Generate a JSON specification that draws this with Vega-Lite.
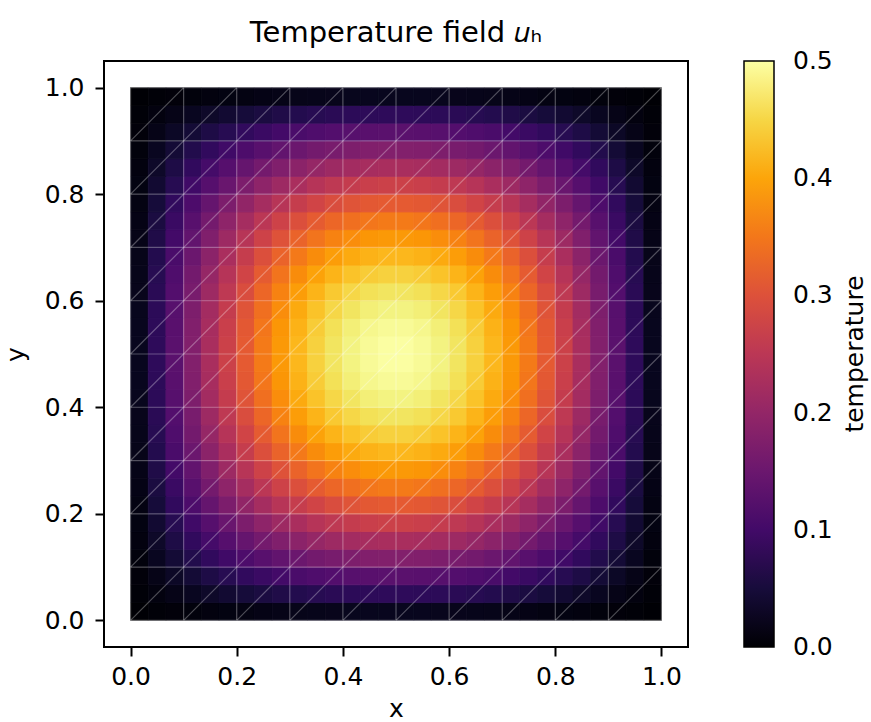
{
"$schema":"https://vega.github.io/schema/vega-lite/v6.json",
"width":584,"height":586,
"autosize":{"type":"none"},
"padding":{"left":104,"top":61,"right":183,"bottom":75},
"title":{"text":"Temperature field 𝑢ₕ","fontSize":29,"fontWeight":"normal","color":"black","offset":13,"frame":"group","anchor":"middle"},
"config":{
"font":"DejaVu Sans",
"view":{"stroke":"black","strokeWidth":2},
"axis":{"grid":false,"domain":false,"labelFontSize":25,"titleFontSize":25,"titleFontWeight":"normal","labelColor":"black","titleColor":"black","tickColor":"black","tickSize":9,"tickWidth":2,"labelOverlap":false,"labelFlush":false}
},
"layer":[
{
"data":{"values":[
{"x":0.0167,"y":0.0167,"t":0.001},{"x":0.05,"y":0.0167,"t":0.004},{"x":0.0833,"y":0.0167,"t":0.007},{"x":0.1167,"y":0.0167,"t":0.009},{"x":0.15,"y":0.0167,"t":0.012},{"x":0.1833,"y":0.0167,"t":0.014},{"x":0.2167,"y":0.0167,"t":0.016},{"x":0.25,"y":0.0167,"t":0.018},{"x":0.2833,"y":0.0167,"t":0.020},{"x":0.3167,"y":0.0167,"t":0.022},{"x":0.35,"y":0.0167,"t":0.023},{"x":0.3833,"y":0.0167,"t":0.024},{"x":0.4167,"y":0.0167,"t":0.025},{"x":0.45,"y":0.0167,"t":0.026},{"x":0.4833,"y":0.0167,"t":0.026},{"x":0.5167,"y":0.0167,"t":0.026},{"x":0.55,"y":0.0167,"t":0.026},{"x":0.5833,"y":0.0167,"t":0.025},{"x":0.6167,"y":0.0167,"t":0.024},{"x":0.65,"y":0.0167,"t":0.023},{"x":0.6833,"y":0.0167,"t":0.022},{"x":0.7167,"y":0.0167,"t":0.020},{"x":0.75,"y":0.0167,"t":0.018},{"x":0.7833,"y":0.0167,"t":0.016},{"x":0.8167,"y":0.0167,"t":0.014},{"x":0.85,"y":0.0167,"t":0.012},{"x":0.8833,"y":0.0167,"t":0.009},{"x":0.9167,"y":0.0167,"t":0.007},{"x":0.95,"y":0.0167,"t":0.004},{"x":0.9833,"y":0.0167,"t":0.001},
{"x":0.0167,"y":0.05,"t":0.004},{"x":0.05,"y":0.05,"t":0.012},{"x":0.0833,"y":0.05,"t":0.020},{"x":0.1167,"y":0.05,"t":0.028},{"x":0.15,"y":0.05,"t":0.036},{"x":0.1833,"y":0.05,"t":0.043},{"x":0.2167,"y":0.05,"t":0.049},{"x":0.25,"y":0.05,"t":0.055},{"x":0.2833,"y":0.05,"t":0.061},{"x":0.3167,"y":0.05,"t":0.066},{"x":0.35,"y":0.05,"t":0.070},{"x":0.3833,"y":0.05,"t":0.073},{"x":0.4167,"y":0.05,"t":0.076},{"x":0.45,"y":0.05,"t":0.077},{"x":0.4833,"y":0.05,"t":0.078},{"x":0.5167,"y":0.05,"t":0.078},{"x":0.55,"y":0.05,"t":0.077},{"x":0.5833,"y":0.05,"t":0.076},{"x":0.6167,"y":0.05,"t":0.073},{"x":0.65,"y":0.05,"t":0.070},{"x":0.6833,"y":0.05,"t":0.066},{"x":0.7167,"y":0.05,"t":0.061},{"x":0.75,"y":0.05,"t":0.055},{"x":0.7833,"y":0.05,"t":0.049},{"x":0.8167,"y":0.05,"t":0.043},{"x":0.85,"y":0.05,"t":0.036},{"x":0.8833,"y":0.05,"t":0.028},{"x":0.9167,"y":0.05,"t":0.020},{"x":0.95,"y":0.05,"t":0.012},{"x":0.9833,"y":0.05,"t":0.004},
{"x":0.0167,"y":0.0833,"t":0.007},{"x":0.05,"y":0.0833,"t":0.020},{"x":0.0833,"y":0.0833,"t":0.033},{"x":0.1167,"y":0.0833,"t":0.046},{"x":0.15,"y":0.0833,"t":0.059},{"x":0.1833,"y":0.0833,"t":0.070},{"x":0.2167,"y":0.0833,"t":0.081},{"x":0.25,"y":0.0833,"t":0.091},{"x":0.2833,"y":0.0833,"t":0.101},{"x":0.3167,"y":0.0833,"t":0.109},{"x":0.35,"y":0.0833,"t":0.115},{"x":0.3833,"y":0.0833,"t":0.121},{"x":0.4167,"y":0.0833,"t":0.125},{"x":0.45,"y":0.0833,"t":0.128},{"x":0.4833,"y":0.0833,"t":0.129},{"x":0.5167,"y":0.0833,"t":0.129},{"x":0.55,"y":0.0833,"t":0.128},{"x":0.5833,"y":0.0833,"t":0.125},{"x":0.6167,"y":0.0833,"t":0.121},{"x":0.65,"y":0.0833,"t":0.115},{"x":0.6833,"y":0.0833,"t":0.109},{"x":0.7167,"y":0.0833,"t":0.101},{"x":0.75,"y":0.0833,"t":0.091},{"x":0.7833,"y":0.0833,"t":0.081},{"x":0.8167,"y":0.0833,"t":0.070},{"x":0.85,"y":0.0833,"t":0.059},{"x":0.8833,"y":0.0833,"t":0.046},{"x":0.9167,"y":0.0833,"t":0.033},{"x":0.95,"y":0.0833,"t":0.020},{"x":0.9833,"y":0.0833,"t":0.007},
{"x":0.0167,"y":0.1167,"t":0.009},{"x":0.05,"y":0.1167,"t":0.028},{"x":0.0833,"y":0.1167,"t":0.046},{"x":0.1167,"y":0.1167,"t":0.064},{"x":0.15,"y":0.1167,"t":0.081},{"x":0.1833,"y":0.1167,"t":0.098},{"x":0.2167,"y":0.1167,"t":0.113},{"x":0.25,"y":0.1167,"t":0.127},{"x":0.2833,"y":0.1167,"t":0.139},{"x":0.3167,"y":0.1167,"t":0.150},{"x":0.35,"y":0.1167,"t":0.160},{"x":0.3833,"y":0.1167,"t":0.167},{"x":0.4167,"y":0.1167,"t":0.173},{"x":0.45,"y":0.1167,"t":0.177},{"x":0.4833,"y":0.1167,"t":0.179},{"x":0.5167,"y":0.1167,"t":0.179},{"x":0.55,"y":0.1167,"t":0.177},{"x":0.5833,"y":0.1167,"t":0.173},{"x":0.6167,"y":0.1167,"t":0.167},{"x":0.65,"y":0.1167,"t":0.160},{"x":0.6833,"y":0.1167,"t":0.150},{"x":0.7167,"y":0.1167,"t":0.139},{"x":0.75,"y":0.1167,"t":0.127},{"x":0.7833,"y":0.1167,"t":0.113},{"x":0.8167,"y":0.1167,"t":0.098},{"x":0.85,"y":0.1167,"t":0.081},{"x":0.8833,"y":0.1167,"t":0.064},{"x":0.9167,"y":0.1167,"t":0.046},{"x":0.95,"y":0.1167,"t":0.028},{"x":0.9833,"y":0.1167,"t":0.009},
{"x":0.0167,"y":0.15,"t":0.012},{"x":0.05,"y":0.15,"t":0.036},{"x":0.0833,"y":0.15,"t":0.059},{"x":0.1167,"y":0.15,"t":0.081},{"x":0.15,"y":0.15,"t":0.103},{"x":0.1833,"y":0.15,"t":0.124},{"x":0.2167,"y":0.15,"t":0.143},{"x":0.25,"y":0.15,"t":0.161},{"x":0.2833,"y":0.15,"t":0.176},{"x":0.3167,"y":0.15,"t":0.190},{"x":0.35,"y":0.15,"t":0.202},{"x":0.3833,"y":0.15,"t":0.212},{"x":0.4167,"y":0.15,"t":0.219},{"x":0.45,"y":0.15,"t":0.224},{"x":0.4833,"y":0.15,"t":0.227},{"x":0.5167,"y":0.15,"t":0.227},{"x":0.55,"y":0.15,"t":0.224},{"x":0.5833,"y":0.15,"t":0.219},{"x":0.6167,"y":0.15,"t":0.212},{"x":0.65,"y":0.15,"t":0.202},{"x":0.6833,"y":0.15,"t":0.190},{"x":0.7167,"y":0.15,"t":0.176},{"x":0.75,"y":0.15,"t":0.161},{"x":0.7833,"y":0.15,"t":0.143},{"x":0.8167,"y":0.15,"t":0.124},{"x":0.85,"y":0.15,"t":0.103},{"x":0.8833,"y":0.15,"t":0.081},{"x":0.9167,"y":0.15,"t":0.059},{"x":0.95,"y":0.15,"t":0.036},{"x":0.9833,"y":0.15,"t":0.012},
{"x":0.0167,"y":0.1833,"t":0.014},{"x":0.05,"y":0.1833,"t":0.043},{"x":0.0833,"y":0.1833,"t":0.070},{"x":0.1167,"y":0.1833,"t":0.098},{"x":0.15,"y":0.1833,"t":0.124},{"x":0.1833,"y":0.1833,"t":0.148},{"x":0.2167,"y":0.1833,"t":0.171},{"x":0.25,"y":0.1833,"t":0.193},{"x":0.2833,"y":0.1833,"t":0.212},{"x":0.3167,"y":0.1833,"t":0.228},{"x":0.35,"y":0.1833,"t":0.243},{"x":0.3833,"y":0.1833,"t":0.254},{"x":0.4167,"y":0.1833,"t":0.263},{"x":0.45,"y":0.1833,"t":0.269},{"x":0.4833,"y":0.1833,"t":0.272},{"x":0.5167,"y":0.1833,"t":0.272},{"x":0.55,"y":0.1833,"t":0.269},{"x":0.5833,"y":0.1833,"t":0.263},{"x":0.6167,"y":0.1833,"t":0.254},{"x":0.65,"y":0.1833,"t":0.243},{"x":0.6833,"y":0.1833,"t":0.228},{"x":0.7167,"y":0.1833,"t":0.212},{"x":0.75,"y":0.1833,"t":0.193},{"x":0.7833,"y":0.1833,"t":0.171},{"x":0.8167,"y":0.1833,"t":0.148},{"x":0.85,"y":0.1833,"t":0.124},{"x":0.8833,"y":0.1833,"t":0.098},{"x":0.9167,"y":0.1833,"t":0.070},{"x":0.95,"y":0.1833,"t":0.043},{"x":0.9833,"y":0.1833,"t":0.014},
{"x":0.0167,"y":0.2167,"t":0.016},{"x":0.05,"y":0.2167,"t":0.049},{"x":0.0833,"y":0.2167,"t":0.081},{"x":0.1167,"y":0.2167,"t":0.113},{"x":0.15,"y":0.2167,"t":0.143},{"x":0.1833,"y":0.2167,"t":0.171},{"x":0.2167,"y":0.2167,"t":0.198},{"x":0.25,"y":0.2167,"t":0.222},{"x":0.2833,"y":0.2167,"t":0.245},{"x":0.3167,"y":0.2167,"t":0.264},{"x":0.35,"y":0.2167,"t":0.280},{"x":0.3833,"y":0.2167,"t":0.294},{"x":0.4167,"y":0.2167,"t":0.304},{"x":0.45,"y":0.2167,"t":0.311},{"x":0.4833,"y":0.2167,"t":0.314},{"x":0.5167,"y":0.2167,"t":0.314},{"x":0.55,"y":0.2167,"t":0.311},{"x":0.5833,"y":0.2167,"t":0.304},{"x":0.6167,"y":0.2167,"t":0.294},{"x":0.65,"y":0.2167,"t":0.280},{"x":0.6833,"y":0.2167,"t":0.264},{"x":0.7167,"y":0.2167,"t":0.245},{"x":0.75,"y":0.2167,"t":0.222},{"x":0.7833,"y":0.2167,"t":0.198},{"x":0.8167,"y":0.2167,"t":0.171},{"x":0.85,"y":0.2167,"t":0.143},{"x":0.8833,"y":0.2167,"t":0.113},{"x":0.9167,"y":0.2167,"t":0.081},{"x":0.95,"y":0.2167,"t":0.049},{"x":0.9833,"y":0.2167,"t":0.016},
{"x":0.0167,"y":0.25,"t":0.018},{"x":0.05,"y":0.25,"t":0.055},{"x":0.0833,"y":0.25,"t":0.091},{"x":0.1167,"y":0.25,"t":0.127},{"x":0.15,"y":0.25,"t":0.161},{"x":0.1833,"y":0.25,"t":0.193},{"x":0.2167,"y":0.25,"t":0.222},{"x":0.25,"y":0.25,"t":0.250},{"x":0.2833,"y":0.25,"t":0.275},{"x":0.3167,"y":0.25,"t":0.297},{"x":0.35,"y":0.25,"t":0.315},{"x":0.3833,"y":0.25,"t":0.330},{"x":0.4167,"y":0.25,"t":0.341},{"x":0.45,"y":0.25,"t":0.349},{"x":0.4833,"y":0.25,"t":0.353},{"x":0.5167,"y":0.25,"t":0.353},{"x":0.55,"y":0.25,"t":0.349},{"x":0.5833,"y":0.25,"t":0.341},{"x":0.6167,"y":0.25,"t":0.330},{"x":0.65,"y":0.25,"t":0.315},{"x":0.6833,"y":0.25,"t":0.297},{"x":0.7167,"y":0.25,"t":0.275},{"x":0.75,"y":0.25,"t":0.250},{"x":0.7833,"y":0.25,"t":0.222},{"x":0.8167,"y":0.25,"t":0.193},{"x":0.85,"y":0.25,"t":0.161},{"x":0.8833,"y":0.25,"t":0.127},{"x":0.9167,"y":0.25,"t":0.091},{"x":0.95,"y":0.25,"t":0.055},{"x":0.9833,"y":0.25,"t":0.018},
{"x":0.0167,"y":0.2833,"t":0.020},{"x":0.05,"y":0.2833,"t":0.061},{"x":0.0833,"y":0.2833,"t":0.101},{"x":0.1167,"y":0.2833,"t":0.139},{"x":0.15,"y":0.2833,"t":0.176},{"x":0.1833,"y":0.2833,"t":0.212},{"x":0.2167,"y":0.2833,"t":0.245},{"x":0.25,"y":0.2833,"t":0.275},{"x":0.2833,"y":0.2833,"t":0.302},{"x":0.3167,"y":0.2833,"t":0.326},{"x":0.35,"y":0.2833,"t":0.346},{"x":0.3833,"y":0.2833,"t":0.363},{"x":0.4167,"y":0.2833,"t":0.375},{"x":0.45,"y":0.2833,"t":0.384},{"x":0.4833,"y":0.2833,"t":0.388},{"x":0.5167,"y":0.2833,"t":0.388},{"x":0.55,"y":0.2833,"t":0.384},{"x":0.5833,"y":0.2833,"t":0.375},{"x":0.6167,"y":0.2833,"t":0.363},{"x":0.65,"y":0.2833,"t":0.346},{"x":0.6833,"y":0.2833,"t":0.326},{"x":0.7167,"y":0.2833,"t":0.302},{"x":0.75,"y":0.2833,"t":0.275},{"x":0.7833,"y":0.2833,"t":0.245},{"x":0.8167,"y":0.2833,"t":0.212},{"x":0.85,"y":0.2833,"t":0.176},{"x":0.8833,"y":0.2833,"t":0.139},{"x":0.9167,"y":0.2833,"t":0.101},{"x":0.95,"y":0.2833,"t":0.061},{"x":0.9833,"y":0.2833,"t":0.020},
{"x":0.0167,"y":0.3167,"t":0.022},{"x":0.05,"y":0.3167,"t":0.066},{"x":0.0833,"y":0.3167,"t":0.109},{"x":0.1167,"y":0.3167,"t":0.150},{"x":0.15,"y":0.3167,"t":0.190},{"x":0.1833,"y":0.3167,"t":0.228},{"x":0.2167,"y":0.3167,"t":0.264},{"x":0.25,"y":0.3167,"t":0.297},{"x":0.2833,"y":0.3167,"t":0.326},{"x":0.3167,"y":0.3167,"t":0.352},{"x":0.35,"y":0.3167,"t":0.374},{"x":0.3833,"y":0.3167,"t":0.392},{"x":0.4167,"y":0.3167,"t":0.405},{"x":0.45,"y":0.3167,"t":0.414},{"x":0.4833,"y":0.3167,"t":0.419},{"x":0.5167,"y":0.3167,"t":0.419},{"x":0.55,"y":0.3167,"t":0.414},{"x":0.5833,"y":0.3167,"t":0.405},{"x":0.6167,"y":0.3167,"t":0.392},{"x":0.65,"y":0.3167,"t":0.374},{"x":0.6833,"y":0.3167,"t":0.352},{"x":0.7167,"y":0.3167,"t":0.326},{"x":0.75,"y":0.3167,"t":0.297},{"x":0.7833,"y":0.3167,"t":0.264},{"x":0.8167,"y":0.3167,"t":0.228},{"x":0.85,"y":0.3167,"t":0.190},{"x":0.8833,"y":0.3167,"t":0.150},{"x":0.9167,"y":0.3167,"t":0.109},{"x":0.95,"y":0.3167,"t":0.066},{"x":0.9833,"y":0.3167,"t":0.022},
{"x":0.0167,"y":0.35,"t":0.023},{"x":0.05,"y":0.35,"t":0.070},{"x":0.0833,"y":0.35,"t":0.115},{"x":0.1167,"y":0.35,"t":0.160},{"x":0.15,"y":0.35,"t":0.202},{"x":0.1833,"y":0.35,"t":0.243},{"x":0.2167,"y":0.35,"t":0.280},{"x":0.25,"y":0.35,"t":0.315},{"x":0.2833,"y":0.35,"t":0.346},{"x":0.3167,"y":0.35,"t":0.374},{"x":0.35,"y":0.35,"t":0.397},{"x":0.3833,"y":0.35,"t":0.416},{"x":0.4167,"y":0.35,"t":0.430},{"x":0.45,"y":0.35,"t":0.440},{"x":0.4833,"y":0.35,"t":0.445},{"x":0.5167,"y":0.35,"t":0.445},{"x":0.55,"y":0.35,"t":0.440},{"x":0.5833,"y":0.35,"t":0.430},{"x":0.6167,"y":0.35,"t":0.416},{"x":0.65,"y":0.35,"t":0.397},{"x":0.6833,"y":0.35,"t":0.374},{"x":0.7167,"y":0.35,"t":0.346},{"x":0.75,"y":0.35,"t":0.315},{"x":0.7833,"y":0.35,"t":0.280},{"x":0.8167,"y":0.35,"t":0.243},{"x":0.85,"y":0.35,"t":0.202},{"x":0.8833,"y":0.35,"t":0.160},{"x":0.9167,"y":0.35,"t":0.115},{"x":0.95,"y":0.35,"t":0.070},{"x":0.9833,"y":0.35,"t":0.023},
{"x":0.0167,"y":0.3833,"t":0.024},{"x":0.05,"y":0.3833,"t":0.073},{"x":0.0833,"y":0.3833,"t":0.121},{"x":0.1167,"y":0.3833,"t":0.167},{"x":0.15,"y":0.3833,"t":0.212},{"x":0.1833,"y":0.3833,"t":0.254},{"x":0.2167,"y":0.3833,"t":0.294},{"x":0.25,"y":0.3833,"t":0.330},{"x":0.2833,"y":0.3833,"t":0.363},{"x":0.3167,"y":0.3833,"t":0.392},{"x":0.35,"y":0.3833,"t":0.416},{"x":0.3833,"y":0.3833,"t":0.436},{"x":0.4167,"y":0.3833,"t":0.451},{"x":0.45,"y":0.3833,"t":0.461},{"x":0.4833,"y":0.3833,"t":0.466},{"x":0.5167,"y":0.3833,"t":0.466},{"x":0.55,"y":0.3833,"t":0.461},{"x":0.5833,"y":0.3833,"t":0.451},{"x":0.6167,"y":0.3833,"t":0.436},{"x":0.65,"y":0.3833,"t":0.416},{"x":0.6833,"y":0.3833,"t":0.392},{"x":0.7167,"y":0.3833,"t":0.363},{"x":0.75,"y":0.3833,"t":0.330},{"x":0.7833,"y":0.3833,"t":0.294},{"x":0.8167,"y":0.3833,"t":0.254},{"x":0.85,"y":0.3833,"t":0.212},{"x":0.8833,"y":0.3833,"t":0.167},{"x":0.9167,"y":0.3833,"t":0.121},{"x":0.95,"y":0.3833,"t":0.073},{"x":0.9833,"y":0.3833,"t":0.024},
{"x":0.0167,"y":0.4167,"t":0.025},{"x":0.05,"y":0.4167,"t":0.076},{"x":0.0833,"y":0.4167,"t":0.125},{"x":0.1167,"y":0.4167,"t":0.173},{"x":0.15,"y":0.4167,"t":0.219},{"x":0.1833,"y":0.4167,"t":0.263},{"x":0.2167,"y":0.4167,"t":0.304},{"x":0.25,"y":0.4167,"t":0.341},{"x":0.2833,"y":0.4167,"t":0.375},{"x":0.3167,"y":0.4167,"t":0.405},{"x":0.35,"y":0.4167,"t":0.430},{"x":0.3833,"y":0.4167,"t":0.451},{"x":0.4167,"y":0.4167,"t":0.466},{"x":0.45,"y":0.4167,"t":0.477},{"x":0.4833,"y":0.4167,"t":0.482},{"x":0.5167,"y":0.4167,"t":0.482},{"x":0.55,"y":0.4167,"t":0.477},{"x":0.5833,"y":0.4167,"t":0.466},{"x":0.6167,"y":0.4167,"t":0.451},{"x":0.65,"y":0.4167,"t":0.430},{"x":0.6833,"y":0.4167,"t":0.405},{"x":0.7167,"y":0.4167,"t":0.375},{"x":0.75,"y":0.4167,"t":0.341},{"x":0.7833,"y":0.4167,"t":0.304},{"x":0.8167,"y":0.4167,"t":0.263},{"x":0.85,"y":0.4167,"t":0.219},{"x":0.8833,"y":0.4167,"t":0.173},{"x":0.9167,"y":0.4167,"t":0.125},{"x":0.95,"y":0.4167,"t":0.076},{"x":0.9833,"y":0.4167,"t":0.025},
{"x":0.0167,"y":0.45,"t":0.026},{"x":0.05,"y":0.45,"t":0.077},{"x":0.0833,"y":0.45,"t":0.128},{"x":0.1167,"y":0.45,"t":0.177},{"x":0.15,"y":0.45,"t":0.224},{"x":0.1833,"y":0.45,"t":0.269},{"x":0.2167,"y":0.45,"t":0.311},{"x":0.25,"y":0.45,"t":0.349},{"x":0.2833,"y":0.45,"t":0.384},{"x":0.3167,"y":0.45,"t":0.414},{"x":0.35,"y":0.45,"t":0.440},{"x":0.3833,"y":0.45,"t":0.461},{"x":0.4167,"y":0.45,"t":0.477},{"x":0.45,"y":0.45,"t":0.488},{"x":0.4833,"y":0.45,"t":0.493},{"x":0.5167,"y":0.45,"t":0.493},{"x":0.55,"y":0.45,"t":0.488},{"x":0.5833,"y":0.45,"t":0.477},{"x":0.6167,"y":0.45,"t":0.461},{"x":0.65,"y":0.45,"t":0.440},{"x":0.6833,"y":0.45,"t":0.414},{"x":0.7167,"y":0.45,"t":0.384},{"x":0.75,"y":0.45,"t":0.349},{"x":0.7833,"y":0.45,"t":0.311},{"x":0.8167,"y":0.45,"t":0.269},{"x":0.85,"y":0.45,"t":0.224},{"x":0.8833,"y":0.45,"t":0.177},{"x":0.9167,"y":0.45,"t":0.128},{"x":0.95,"y":0.45,"t":0.077},{"x":0.9833,"y":0.45,"t":0.026},
{"x":0.0167,"y":0.4833,"t":0.026},{"x":0.05,"y":0.4833,"t":0.078},{"x":0.0833,"y":0.4833,"t":0.129},{"x":0.1167,"y":0.4833,"t":0.179},{"x":0.15,"y":0.4833,"t":0.227},{"x":0.1833,"y":0.4833,"t":0.272},{"x":0.2167,"y":0.4833,"t":0.314},{"x":0.25,"y":0.4833,"t":0.353},{"x":0.2833,"y":0.4833,"t":0.388},{"x":0.3167,"y":0.4833,"t":0.419},{"x":0.35,"y":0.4833,"t":0.445},{"x":0.3833,"y":0.4833,"t":0.466},{"x":0.4167,"y":0.4833,"t":0.482},{"x":0.45,"y":0.4833,"t":0.493},{"x":0.4833,"y":0.4833,"t":0.499},{"x":0.5167,"y":0.4833,"t":0.499},{"x":0.55,"y":0.4833,"t":0.493},{"x":0.5833,"y":0.4833,"t":0.482},{"x":0.6167,"y":0.4833,"t":0.466},{"x":0.65,"y":0.4833,"t":0.445},{"x":0.6833,"y":0.4833,"t":0.419},{"x":0.7167,"y":0.4833,"t":0.388},{"x":0.75,"y":0.4833,"t":0.353},{"x":0.7833,"y":0.4833,"t":0.314},{"x":0.8167,"y":0.4833,"t":0.272},{"x":0.85,"y":0.4833,"t":0.227},{"x":0.8833,"y":0.4833,"t":0.179},{"x":0.9167,"y":0.4833,"t":0.129},{"x":0.95,"y":0.4833,"t":0.078},{"x":0.9833,"y":0.4833,"t":0.026},
{"x":0.0167,"y":0.5167,"t":0.026},{"x":0.05,"y":0.5167,"t":0.078},{"x":0.0833,"y":0.5167,"t":0.129},{"x":0.1167,"y":0.5167,"t":0.179},{"x":0.15,"y":0.5167,"t":0.227},{"x":0.1833,"y":0.5167,"t":0.272},{"x":0.2167,"y":0.5167,"t":0.314},{"x":0.25,"y":0.5167,"t":0.353},{"x":0.2833,"y":0.5167,"t":0.388},{"x":0.3167,"y":0.5167,"t":0.419},{"x":0.35,"y":0.5167,"t":0.445},{"x":0.3833,"y":0.5167,"t":0.466},{"x":0.4167,"y":0.5167,"t":0.482},{"x":0.45,"y":0.5167,"t":0.493},{"x":0.4833,"y":0.5167,"t":0.499},{"x":0.5167,"y":0.5167,"t":0.499},{"x":0.55,"y":0.5167,"t":0.493},{"x":0.5833,"y":0.5167,"t":0.482},{"x":0.6167,"y":0.5167,"t":0.466},{"x":0.65,"y":0.5167,"t":0.445},{"x":0.6833,"y":0.5167,"t":0.419},{"x":0.7167,"y":0.5167,"t":0.388},{"x":0.75,"y":0.5167,"t":0.353},{"x":0.7833,"y":0.5167,"t":0.314},{"x":0.8167,"y":0.5167,"t":0.272},{"x":0.85,"y":0.5167,"t":0.227},{"x":0.8833,"y":0.5167,"t":0.179},{"x":0.9167,"y":0.5167,"t":0.129},{"x":0.95,"y":0.5167,"t":0.078},{"x":0.9833,"y":0.5167,"t":0.026},
{"x":0.0167,"y":0.55,"t":0.026},{"x":0.05,"y":0.55,"t":0.077},{"x":0.0833,"y":0.55,"t":0.128},{"x":0.1167,"y":0.55,"t":0.177},{"x":0.15,"y":0.55,"t":0.224},{"x":0.1833,"y":0.55,"t":0.269},{"x":0.2167,"y":0.55,"t":0.311},{"x":0.25,"y":0.55,"t":0.349},{"x":0.2833,"y":0.55,"t":0.384},{"x":0.3167,"y":0.55,"t":0.414},{"x":0.35,"y":0.55,"t":0.440},{"x":0.3833,"y":0.55,"t":0.461},{"x":0.4167,"y":0.55,"t":0.477},{"x":0.45,"y":0.55,"t":0.488},{"x":0.4833,"y":0.55,"t":0.493},{"x":0.5167,"y":0.55,"t":0.493},{"x":0.55,"y":0.55,"t":0.488},{"x":0.5833,"y":0.55,"t":0.477},{"x":0.6167,"y":0.55,"t":0.461},{"x":0.65,"y":0.55,"t":0.440},{"x":0.6833,"y":0.55,"t":0.414},{"x":0.7167,"y":0.55,"t":0.384},{"x":0.75,"y":0.55,"t":0.349},{"x":0.7833,"y":0.55,"t":0.311},{"x":0.8167,"y":0.55,"t":0.269},{"x":0.85,"y":0.55,"t":0.224},{"x":0.8833,"y":0.55,"t":0.177},{"x":0.9167,"y":0.55,"t":0.128},{"x":0.95,"y":0.55,"t":0.077},{"x":0.9833,"y":0.55,"t":0.026},
{"x":0.0167,"y":0.5833,"t":0.025},{"x":0.05,"y":0.5833,"t":0.076},{"x":0.0833,"y":0.5833,"t":0.125},{"x":0.1167,"y":0.5833,"t":0.173},{"x":0.15,"y":0.5833,"t":0.219},{"x":0.1833,"y":0.5833,"t":0.263},{"x":0.2167,"y":0.5833,"t":0.304},{"x":0.25,"y":0.5833,"t":0.341},{"x":0.2833,"y":0.5833,"t":0.375},{"x":0.3167,"y":0.5833,"t":0.405},{"x":0.35,"y":0.5833,"t":0.430},{"x":0.3833,"y":0.5833,"t":0.451},{"x":0.4167,"y":0.5833,"t":0.466},{"x":0.45,"y":0.5833,"t":0.477},{"x":0.4833,"y":0.5833,"t":0.482},{"x":0.5167,"y":0.5833,"t":0.482},{"x":0.55,"y":0.5833,"t":0.477},{"x":0.5833,"y":0.5833,"t":0.466},{"x":0.6167,"y":0.5833,"t":0.451},{"x":0.65,"y":0.5833,"t":0.430},{"x":0.6833,"y":0.5833,"t":0.405},{"x":0.7167,"y":0.5833,"t":0.375},{"x":0.75,"y":0.5833,"t":0.341},{"x":0.7833,"y":0.5833,"t":0.304},{"x":0.8167,"y":0.5833,"t":0.263},{"x":0.85,"y":0.5833,"t":0.219},{"x":0.8833,"y":0.5833,"t":0.173},{"x":0.9167,"y":0.5833,"t":0.125},{"x":0.95,"y":0.5833,"t":0.076},{"x":0.9833,"y":0.5833,"t":0.025},
{"x":0.0167,"y":0.6167,"t":0.024},{"x":0.05,"y":0.6167,"t":0.073},{"x":0.0833,"y":0.6167,"t":0.121},{"x":0.1167,"y":0.6167,"t":0.167},{"x":0.15,"y":0.6167,"t":0.212},{"x":0.1833,"y":0.6167,"t":0.254},{"x":0.2167,"y":0.6167,"t":0.294},{"x":0.25,"y":0.6167,"t":0.330},{"x":0.2833,"y":0.6167,"t":0.363},{"x":0.3167,"y":0.6167,"t":0.392},{"x":0.35,"y":0.6167,"t":0.416},{"x":0.3833,"y":0.6167,"t":0.436},{"x":0.4167,"y":0.6167,"t":0.451},{"x":0.45,"y":0.6167,"t":0.461},{"x":0.4833,"y":0.6167,"t":0.466},{"x":0.5167,"y":0.6167,"t":0.466},{"x":0.55,"y":0.6167,"t":0.461},{"x":0.5833,"y":0.6167,"t":0.451},{"x":0.6167,"y":0.6167,"t":0.436},{"x":0.65,"y":0.6167,"t":0.416},{"x":0.6833,"y":0.6167,"t":0.392},{"x":0.7167,"y":0.6167,"t":0.363},{"x":0.75,"y":0.6167,"t":0.330},{"x":0.7833,"y":0.6167,"t":0.294},{"x":0.8167,"y":0.6167,"t":0.254},{"x":0.85,"y":0.6167,"t":0.212},{"x":0.8833,"y":0.6167,"t":0.167},{"x":0.9167,"y":0.6167,"t":0.121},{"x":0.95,"y":0.6167,"t":0.073},{"x":0.9833,"y":0.6167,"t":0.024},
{"x":0.0167,"y":0.65,"t":0.023},{"x":0.05,"y":0.65,"t":0.070},{"x":0.0833,"y":0.65,"t":0.115},{"x":0.1167,"y":0.65,"t":0.160},{"x":0.15,"y":0.65,"t":0.202},{"x":0.1833,"y":0.65,"t":0.243},{"x":0.2167,"y":0.65,"t":0.280},{"x":0.25,"y":0.65,"t":0.315},{"x":0.2833,"y":0.65,"t":0.346},{"x":0.3167,"y":0.65,"t":0.374},{"x":0.35,"y":0.65,"t":0.397},{"x":0.3833,"y":0.65,"t":0.416},{"x":0.4167,"y":0.65,"t":0.430},{"x":0.45,"y":0.65,"t":0.440},{"x":0.4833,"y":0.65,"t":0.445},{"x":0.5167,"y":0.65,"t":0.445},{"x":0.55,"y":0.65,"t":0.440},{"x":0.5833,"y":0.65,"t":0.430},{"x":0.6167,"y":0.65,"t":0.416},{"x":0.65,"y":0.65,"t":0.397},{"x":0.6833,"y":0.65,"t":0.374},{"x":0.7167,"y":0.65,"t":0.346},{"x":0.75,"y":0.65,"t":0.315},{"x":0.7833,"y":0.65,"t":0.280},{"x":0.8167,"y":0.65,"t":0.243},{"x":0.85,"y":0.65,"t":0.202},{"x":0.8833,"y":0.65,"t":0.160},{"x":0.9167,"y":0.65,"t":0.115},{"x":0.95,"y":0.65,"t":0.070},{"x":0.9833,"y":0.65,"t":0.023},
{"x":0.0167,"y":0.6833,"t":0.022},{"x":0.05,"y":0.6833,"t":0.066},{"x":0.0833,"y":0.6833,"t":0.109},{"x":0.1167,"y":0.6833,"t":0.150},{"x":0.15,"y":0.6833,"t":0.190},{"x":0.1833,"y":0.6833,"t":0.228},{"x":0.2167,"y":0.6833,"t":0.264},{"x":0.25,"y":0.6833,"t":0.297},{"x":0.2833,"y":0.6833,"t":0.326},{"x":0.3167,"y":0.6833,"t":0.352},{"x":0.35,"y":0.6833,"t":0.374},{"x":0.3833,"y":0.6833,"t":0.392},{"x":0.4167,"y":0.6833,"t":0.405},{"x":0.45,"y":0.6833,"t":0.414},{"x":0.4833,"y":0.6833,"t":0.419},{"x":0.5167,"y":0.6833,"t":0.419},{"x":0.55,"y":0.6833,"t":0.414},{"x":0.5833,"y":0.6833,"t":0.405},{"x":0.6167,"y":0.6833,"t":0.392},{"x":0.65,"y":0.6833,"t":0.374},{"x":0.6833,"y":0.6833,"t":0.352},{"x":0.7167,"y":0.6833,"t":0.326},{"x":0.75,"y":0.6833,"t":0.297},{"x":0.7833,"y":0.6833,"t":0.264},{"x":0.8167,"y":0.6833,"t":0.228},{"x":0.85,"y":0.6833,"t":0.190},{"x":0.8833,"y":0.6833,"t":0.150},{"x":0.9167,"y":0.6833,"t":0.109},{"x":0.95,"y":0.6833,"t":0.066},{"x":0.9833,"y":0.6833,"t":0.022},
{"x":0.0167,"y":0.7167,"t":0.020},{"x":0.05,"y":0.7167,"t":0.061},{"x":0.0833,"y":0.7167,"t":0.101},{"x":0.1167,"y":0.7167,"t":0.139},{"x":0.15,"y":0.7167,"t":0.176},{"x":0.1833,"y":0.7167,"t":0.212},{"x":0.2167,"y":0.7167,"t":0.245},{"x":0.25,"y":0.7167,"t":0.275},{"x":0.2833,"y":0.7167,"t":0.302},{"x":0.3167,"y":0.7167,"t":0.326},{"x":0.35,"y":0.7167,"t":0.346},{"x":0.3833,"y":0.7167,"t":0.363},{"x":0.4167,"y":0.7167,"t":0.375},{"x":0.45,"y":0.7167,"t":0.384},{"x":0.4833,"y":0.7167,"t":0.388},{"x":0.5167,"y":0.7167,"t":0.388},{"x":0.55,"y":0.7167,"t":0.384},{"x":0.5833,"y":0.7167,"t":0.375},{"x":0.6167,"y":0.7167,"t":0.363},{"x":0.65,"y":0.7167,"t":0.346},{"x":0.6833,"y":0.7167,"t":0.326},{"x":0.7167,"y":0.7167,"t":0.302},{"x":0.75,"y":0.7167,"t":0.275},{"x":0.7833,"y":0.7167,"t":0.245},{"x":0.8167,"y":0.7167,"t":0.212},{"x":0.85,"y":0.7167,"t":0.176},{"x":0.8833,"y":0.7167,"t":0.139},{"x":0.9167,"y":0.7167,"t":0.101},{"x":0.95,"y":0.7167,"t":0.061},{"x":0.9833,"y":0.7167,"t":0.020},
{"x":0.0167,"y":0.75,"t":0.018},{"x":0.05,"y":0.75,"t":0.055},{"x":0.0833,"y":0.75,"t":0.091},{"x":0.1167,"y":0.75,"t":0.127},{"x":0.15,"y":0.75,"t":0.161},{"x":0.1833,"y":0.75,"t":0.193},{"x":0.2167,"y":0.75,"t":0.222},{"x":0.25,"y":0.75,"t":0.250},{"x":0.2833,"y":0.75,"t":0.275},{"x":0.3167,"y":0.75,"t":0.297},{"x":0.35,"y":0.75,"t":0.315},{"x":0.3833,"y":0.75,"t":0.330},{"x":0.4167,"y":0.75,"t":0.341},{"x":0.45,"y":0.75,"t":0.349},{"x":0.4833,"y":0.75,"t":0.353},{"x":0.5167,"y":0.75,"t":0.353},{"x":0.55,"y":0.75,"t":0.349},{"x":0.5833,"y":0.75,"t":0.341},{"x":0.6167,"y":0.75,"t":0.330},{"x":0.65,"y":0.75,"t":0.315},{"x":0.6833,"y":0.75,"t":0.297},{"x":0.7167,"y":0.75,"t":0.275},{"x":0.75,"y":0.75,"t":0.250},{"x":0.7833,"y":0.75,"t":0.222},{"x":0.8167,"y":0.75,"t":0.193},{"x":0.85,"y":0.75,"t":0.161},{"x":0.8833,"y":0.75,"t":0.127},{"x":0.9167,"y":0.75,"t":0.091},{"x":0.95,"y":0.75,"t":0.055},{"x":0.9833,"y":0.75,"t":0.018},
{"x":0.0167,"y":0.7833,"t":0.016},{"x":0.05,"y":0.7833,"t":0.049},{"x":0.0833,"y":0.7833,"t":0.081},{"x":0.1167,"y":0.7833,"t":0.113},{"x":0.15,"y":0.7833,"t":0.143},{"x":0.1833,"y":0.7833,"t":0.171},{"x":0.2167,"y":0.7833,"t":0.198},{"x":0.25,"y":0.7833,"t":0.222},{"x":0.2833,"y":0.7833,"t":0.245},{"x":0.3167,"y":0.7833,"t":0.264},{"x":0.35,"y":0.7833,"t":0.280},{"x":0.3833,"y":0.7833,"t":0.294},{"x":0.4167,"y":0.7833,"t":0.304},{"x":0.45,"y":0.7833,"t":0.311},{"x":0.4833,"y":0.7833,"t":0.314},{"x":0.5167,"y":0.7833,"t":0.314},{"x":0.55,"y":0.7833,"t":0.311},{"x":0.5833,"y":0.7833,"t":0.304},{"x":0.6167,"y":0.7833,"t":0.294},{"x":0.65,"y":0.7833,"t":0.280},{"x":0.6833,"y":0.7833,"t":0.264},{"x":0.7167,"y":0.7833,"t":0.245},{"x":0.75,"y":0.7833,"t":0.222},{"x":0.7833,"y":0.7833,"t":0.198},{"x":0.8167,"y":0.7833,"t":0.171},{"x":0.85,"y":0.7833,"t":0.143},{"x":0.8833,"y":0.7833,"t":0.113},{"x":0.9167,"y":0.7833,"t":0.081},{"x":0.95,"y":0.7833,"t":0.049},{"x":0.9833,"y":0.7833,"t":0.016},
{"x":0.0167,"y":0.8167,"t":0.014},{"x":0.05,"y":0.8167,"t":0.043},{"x":0.0833,"y":0.8167,"t":0.070},{"x":0.1167,"y":0.8167,"t":0.098},{"x":0.15,"y":0.8167,"t":0.124},{"x":0.1833,"y":0.8167,"t":0.148},{"x":0.2167,"y":0.8167,"t":0.171},{"x":0.25,"y":0.8167,"t":0.193},{"x":0.2833,"y":0.8167,"t":0.212},{"x":0.3167,"y":0.8167,"t":0.228},{"x":0.35,"y":0.8167,"t":0.243},{"x":0.3833,"y":0.8167,"t":0.254},{"x":0.4167,"y":0.8167,"t":0.263},{"x":0.45,"y":0.8167,"t":0.269},{"x":0.4833,"y":0.8167,"t":0.272},{"x":0.5167,"y":0.8167,"t":0.272},{"x":0.55,"y":0.8167,"t":0.269},{"x":0.5833,"y":0.8167,"t":0.263},{"x":0.6167,"y":0.8167,"t":0.254},{"x":0.65,"y":0.8167,"t":0.243},{"x":0.6833,"y":0.8167,"t":0.228},{"x":0.7167,"y":0.8167,"t":0.212},{"x":0.75,"y":0.8167,"t":0.193},{"x":0.7833,"y":0.8167,"t":0.171},{"x":0.8167,"y":0.8167,"t":0.148},{"x":0.85,"y":0.8167,"t":0.124},{"x":0.8833,"y":0.8167,"t":0.098},{"x":0.9167,"y":0.8167,"t":0.070},{"x":0.95,"y":0.8167,"t":0.043},{"x":0.9833,"y":0.8167,"t":0.014},
{"x":0.0167,"y":0.85,"t":0.012},{"x":0.05,"y":0.85,"t":0.036},{"x":0.0833,"y":0.85,"t":0.059},{"x":0.1167,"y":0.85,"t":0.081},{"x":0.15,"y":0.85,"t":0.103},{"x":0.1833,"y":0.85,"t":0.124},{"x":0.2167,"y":0.85,"t":0.143},{"x":0.25,"y":0.85,"t":0.161},{"x":0.2833,"y":0.85,"t":0.176},{"x":0.3167,"y":0.85,"t":0.190},{"x":0.35,"y":0.85,"t":0.202},{"x":0.3833,"y":0.85,"t":0.212},{"x":0.4167,"y":0.85,"t":0.219},{"x":0.45,"y":0.85,"t":0.224},{"x":0.4833,"y":0.85,"t":0.227},{"x":0.5167,"y":0.85,"t":0.227},{"x":0.55,"y":0.85,"t":0.224},{"x":0.5833,"y":0.85,"t":0.219},{"x":0.6167,"y":0.85,"t":0.212},{"x":0.65,"y":0.85,"t":0.202},{"x":0.6833,"y":0.85,"t":0.190},{"x":0.7167,"y":0.85,"t":0.176},{"x":0.75,"y":0.85,"t":0.161},{"x":0.7833,"y":0.85,"t":0.143},{"x":0.8167,"y":0.85,"t":0.124},{"x":0.85,"y":0.85,"t":0.103},{"x":0.8833,"y":0.85,"t":0.081},{"x":0.9167,"y":0.85,"t":0.059},{"x":0.95,"y":0.85,"t":0.036},{"x":0.9833,"y":0.85,"t":0.012},
{"x":0.0167,"y":0.8833,"t":0.009},{"x":0.05,"y":0.8833,"t":0.028},{"x":0.0833,"y":0.8833,"t":0.046},{"x":0.1167,"y":0.8833,"t":0.064},{"x":0.15,"y":0.8833,"t":0.081},{"x":0.1833,"y":0.8833,"t":0.098},{"x":0.2167,"y":0.8833,"t":0.113},{"x":0.25,"y":0.8833,"t":0.127},{"x":0.2833,"y":0.8833,"t":0.139},{"x":0.3167,"y":0.8833,"t":0.150},{"x":0.35,"y":0.8833,"t":0.160},{"x":0.3833,"y":0.8833,"t":0.167},{"x":0.4167,"y":0.8833,"t":0.173},{"x":0.45,"y":0.8833,"t":0.177},{"x":0.4833,"y":0.8833,"t":0.179},{"x":0.5167,"y":0.8833,"t":0.179},{"x":0.55,"y":0.8833,"t":0.177},{"x":0.5833,"y":0.8833,"t":0.173},{"x":0.6167,"y":0.8833,"t":0.167},{"x":0.65,"y":0.8833,"t":0.160},{"x":0.6833,"y":0.8833,"t":0.150},{"x":0.7167,"y":0.8833,"t":0.139},{"x":0.75,"y":0.8833,"t":0.127},{"x":0.7833,"y":0.8833,"t":0.113},{"x":0.8167,"y":0.8833,"t":0.098},{"x":0.85,"y":0.8833,"t":0.081},{"x":0.8833,"y":0.8833,"t":0.064},{"x":0.9167,"y":0.8833,"t":0.046},{"x":0.95,"y":0.8833,"t":0.028},{"x":0.9833,"y":0.8833,"t":0.009},
{"x":0.0167,"y":0.9167,"t":0.007},{"x":0.05,"y":0.9167,"t":0.020},{"x":0.0833,"y":0.9167,"t":0.033},{"x":0.1167,"y":0.9167,"t":0.046},{"x":0.15,"y":0.9167,"t":0.059},{"x":0.1833,"y":0.9167,"t":0.070},{"x":0.2167,"y":0.9167,"t":0.081},{"x":0.25,"y":0.9167,"t":0.091},{"x":0.2833,"y":0.9167,"t":0.101},{"x":0.3167,"y":0.9167,"t":0.109},{"x":0.35,"y":0.9167,"t":0.115},{"x":0.3833,"y":0.9167,"t":0.121},{"x":0.4167,"y":0.9167,"t":0.125},{"x":0.45,"y":0.9167,"t":0.128},{"x":0.4833,"y":0.9167,"t":0.129},{"x":0.5167,"y":0.9167,"t":0.129},{"x":0.55,"y":0.9167,"t":0.128},{"x":0.5833,"y":0.9167,"t":0.125},{"x":0.6167,"y":0.9167,"t":0.121},{"x":0.65,"y":0.9167,"t":0.115},{"x":0.6833,"y":0.9167,"t":0.109},{"x":0.7167,"y":0.9167,"t":0.101},{"x":0.75,"y":0.9167,"t":0.091},{"x":0.7833,"y":0.9167,"t":0.081},{"x":0.8167,"y":0.9167,"t":0.070},{"x":0.85,"y":0.9167,"t":0.059},{"x":0.8833,"y":0.9167,"t":0.046},{"x":0.9167,"y":0.9167,"t":0.033},{"x":0.95,"y":0.9167,"t":0.020},{"x":0.9833,"y":0.9167,"t":0.007},
{"x":0.0167,"y":0.95,"t":0.004},{"x":0.05,"y":0.95,"t":0.012},{"x":0.0833,"y":0.95,"t":0.020},{"x":0.1167,"y":0.95,"t":0.028},{"x":0.15,"y":0.95,"t":0.036},{"x":0.1833,"y":0.95,"t":0.043},{"x":0.2167,"y":0.95,"t":0.049},{"x":0.25,"y":0.95,"t":0.055},{"x":0.2833,"y":0.95,"t":0.061},{"x":0.3167,"y":0.95,"t":0.066},{"x":0.35,"y":0.95,"t":0.070},{"x":0.3833,"y":0.95,"t":0.073},{"x":0.4167,"y":0.95,"t":0.076},{"x":0.45,"y":0.95,"t":0.077},{"x":0.4833,"y":0.95,"t":0.078},{"x":0.5167,"y":0.95,"t":0.078},{"x":0.55,"y":0.95,"t":0.077},{"x":0.5833,"y":0.95,"t":0.076},{"x":0.6167,"y":0.95,"t":0.073},{"x":0.65,"y":0.95,"t":0.070},{"x":0.6833,"y":0.95,"t":0.066},{"x":0.7167,"y":0.95,"t":0.061},{"x":0.75,"y":0.95,"t":0.055},{"x":0.7833,"y":0.95,"t":0.049},{"x":0.8167,"y":0.95,"t":0.043},{"x":0.85,"y":0.95,"t":0.036},{"x":0.8833,"y":0.95,"t":0.028},{"x":0.9167,"y":0.95,"t":0.020},{"x":0.95,"y":0.95,"t":0.012},{"x":0.9833,"y":0.95,"t":0.004},
{"x":0.0167,"y":0.9833,"t":0.001},{"x":0.05,"y":0.9833,"t":0.004},{"x":0.0833,"y":0.9833,"t":0.007},{"x":0.1167,"y":0.9833,"t":0.009},{"x":0.15,"y":0.9833,"t":0.012},{"x":0.1833,"y":0.9833,"t":0.014},{"x":0.2167,"y":0.9833,"t":0.016},{"x":0.25,"y":0.9833,"t":0.018},{"x":0.2833,"y":0.9833,"t":0.020},{"x":0.3167,"y":0.9833,"t":0.022},{"x":0.35,"y":0.9833,"t":0.023},{"x":0.3833,"y":0.9833,"t":0.024},{"x":0.4167,"y":0.9833,"t":0.025},{"x":0.45,"y":0.9833,"t":0.026},{"x":0.4833,"y":0.9833,"t":0.026},{"x":0.5167,"y":0.9833,"t":0.026},{"x":0.55,"y":0.9833,"t":0.026},{"x":0.5833,"y":0.9833,"t":0.025},{"x":0.6167,"y":0.9833,"t":0.024},{"x":0.65,"y":0.9833,"t":0.023},{"x":0.6833,"y":0.9833,"t":0.022},{"x":0.7167,"y":0.9833,"t":0.020},{"x":0.75,"y":0.9833,"t":0.018},{"x":0.7833,"y":0.9833,"t":0.016},{"x":0.8167,"y":0.9833,"t":0.014},{"x":0.85,"y":0.9833,"t":0.012},{"x":0.8833,"y":0.9833,"t":0.009},{"x":0.9167,"y":0.9833,"t":0.007},{"x":0.95,"y":0.9833,"t":0.004},{"x":0.9833,"y":0.9833,"t":0.001}
]},
"transform":[
{"bin":{"step":0.0333333333333333,"extent":[0,1],"nice":false},"field":"x","as":["x0","x1"]},
{"bin":{"step":0.0333333333333333,"extent":[0,1],"nice":false},"field":"y","as":["y0","y1"]}
],
"mark":{"type":"rect","strokeWidth":0.8,"stroke":{"expr":"scale('color', datum.t)"}},
"encoding":{
"x":{"field":"x0","type":"quantitative","title":"x","scale":{"domain":[-0.05,1.05],"nice":false,"zero":false},"axis":{"values":[0,0.2,0.4,0.6,0.8,1],"format":".1f","labelPadding":8,"titlePadding":7}},
"x2":{"field":"x1"},
"y":{"field":"y0","type":"quantitative","title":"y","scale":{"domain":[-0.05,1.05],"nice":false,"zero":false},"axis":{"values":[0,0.2,0.4,0.6,0.8,1],"format":".1f","labelPadding":11,"titlePadding":16}},
"y2":{"field":"y1"},
"color":{"field":"t","type":"quantitative","scale":{"scheme":"inferno","domain":[0,0.5]},
"legend":{"type":"gradient","orient":"none","legendX":640,"legendY":0,"padding":0,"direction":"vertical","gradientLength":586,"gradientThickness":30,"values":[0,0.1,0.2,0.3,0.4,0.5],"format":".1f","labelFontSize":25,"labelColor":"black","labelOffset":19,"title":"temperature","titleOrient":"right","titleFontSize":25,"titleFontWeight":"normal","titleColor":"black","titleAnchor":"middle","titlePadding":35,"gradientStrokeColor":"black","gradientStrokeWidth":1.5,
"encode":{"labels":{"update":{"baseline":{"value":"middle"}}},"title":{"update":{"angle":{"value":270}}}}}}
}
},
{
"data":{"values":[
{"xa":0,"ya":0,"xb":1,"yb":0},{"xa":0,"ya":0.1,"xb":1,"yb":0.1},{"xa":0,"ya":0.2,"xb":1,"yb":0.2},{"xa":0,"ya":0.3,"xb":1,"yb":0.3},{"xa":0,"ya":0.4,"xb":1,"yb":0.4},{"xa":0,"ya":0.5,"xb":1,"yb":0.5},{"xa":0,"ya":0.6,"xb":1,"yb":0.6},{"xa":0,"ya":0.7,"xb":1,"yb":0.7},{"xa":0,"ya":0.8,"xb":1,"yb":0.8},{"xa":0,"ya":0.9,"xb":1,"yb":0.9},{"xa":0,"ya":1,"xb":1,"yb":1},
{"xa":0,"ya":0,"xb":0,"yb":1},{"xa":0.1,"ya":0,"xb":0.1,"yb":1},{"xa":0.2,"ya":0,"xb":0.2,"yb":1},{"xa":0.3,"ya":0,"xb":0.3,"yb":1},{"xa":0.4,"ya":0,"xb":0.4,"yb":1},{"xa":0.5,"ya":0,"xb":0.5,"yb":1},{"xa":0.6,"ya":0,"xb":0.6,"yb":1},{"xa":0.7,"ya":0,"xb":0.7,"yb":1},{"xa":0.8,"ya":0,"xb":0.8,"yb":1},{"xa":0.9,"ya":0,"xb":0.9,"yb":1},{"xa":1,"ya":0,"xb":1,"yb":1},
{"xa":0.9,"ya":0,"xb":1,"yb":0.1},{"xa":0.8,"ya":0,"xb":1,"yb":0.2},{"xa":0.7,"ya":0,"xb":1,"yb":0.3},{"xa":0.6,"ya":0,"xb":1,"yb":0.4},{"xa":0.5,"ya":0,"xb":1,"yb":0.5},{"xa":0.4,"ya":0,"xb":1,"yb":0.6},{"xa":0.3,"ya":0,"xb":1,"yb":0.7},{"xa":0.2,"ya":0,"xb":1,"yb":0.8},{"xa":0.1,"ya":0,"xb":1,"yb":0.9},{"xa":0,"ya":0,"xb":1,"yb":1},
{"xa":0,"ya":0.1,"xb":0.9,"yb":1},{"xa":0,"ya":0.2,"xb":0.8,"yb":1},{"xa":0,"ya":0.3,"xb":0.7,"yb":1},{"xa":0,"ya":0.4,"xb":0.6,"yb":1},{"xa":0,"ya":0.5,"xb":0.5,"yb":1},{"xa":0,"ya":0.6,"xb":0.4,"yb":1},{"xa":0,"ya":0.7,"xb":0.3,"yb":1},{"xa":0,"ya":0.8,"xb":0.2,"yb":1},{"xa":0,"ya":0.9,"xb":0.1,"yb":1}
]},
"mark":{"type":"rule","color":"white","opacity":0.3,"strokeWidth":1.2},
"encoding":{
"x":{"field":"xa","type":"quantitative","title":"x"},
"y":{"field":"ya","type":"quantitative","title":"y"},
"x2":{"field":"xb"},
"y2":{"field":"yb"}
}
}
]
}
